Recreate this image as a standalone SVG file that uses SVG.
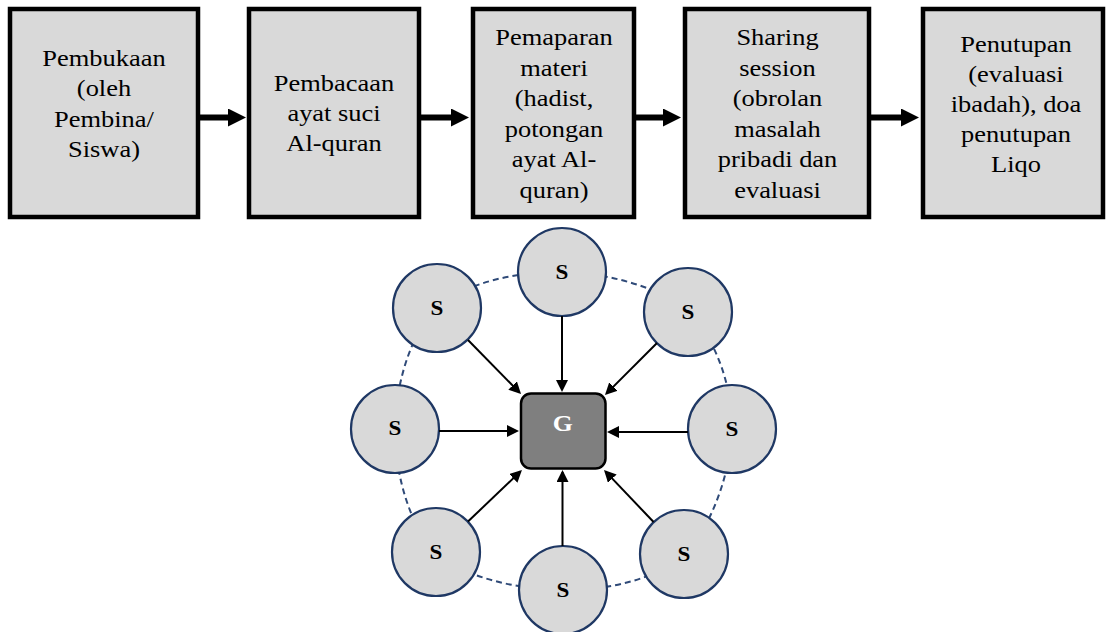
<svg xmlns="http://www.w3.org/2000/svg" width="1106" height="632" viewBox="0 0 1106 632">
<defs>
<style>
.box{fill:#d9d9d9;stroke:#000;stroke-width:4.5}
.bt{font-family:"Liberation Serif","Times New Roman",serif;font-size:23px;fill:#000;text-anchor:middle}
.flow{stroke:#000;stroke-width:6;fill:none}
.circ{fill:#d9d9d9;stroke:#1f3864;stroke-width:2.2}
.st{font-family:"Liberation Serif","Times New Roman",serif;font-size:21px;font-weight:bold;fill:#000;text-anchor:middle}
.ring{fill:none;stroke:#2f4a78;stroke-width:2;stroke-dasharray:6 4}
.ar{stroke:#000;stroke-width:2;fill:none}
.gbox{fill:#7f7f7f;stroke:#000;stroke-width:2.5}
.gt{font-family:"Liberation Serif","Times New Roman",serif;font-size:23px;font-weight:bold;fill:#fff;text-anchor:middle}
</style>
<marker id="bigHead" markerUnits="userSpaceOnUse" markerWidth="18" markerHeight="18" refX="1" refY="9" orient="auto">
<path d="M0,0 L18,9 L0,18 z" fill="#000"/>
</marker>
<marker id="smallHead" markerUnits="userSpaceOnUse" markerWidth="12" markerHeight="12" refX="10" refY="6" orient="auto">
<path d="M0,0 L12,6 L0,12 z" fill="#000"/>
</marker>
</defs>
<rect width="1106" height="632" fill="#fff"/>

<g id="step1">
<rect class="box" x="10" y="9" width="188" height="208"/>
<text class="bt" transform="translate(104,0) scale(1.15,1)"><tspan x="0" y="66">Pembukaan</tspan><tspan x="0" y="96.5">(oleh</tspan><tspan x="0" y="127">Pembina/</tspan><tspan x="0" y="157.5">Siswa)</tspan></text>
</g>
<g id="step2">
<rect class="box" x="249" y="9" width="170" height="208"/>
<text class="bt" transform="translate(334,0) scale(1.15,1)"><tspan x="0" y="91">Pembacaan</tspan><tspan x="0" y="121">ayat suci</tspan><tspan x="0" y="151">Al-quran</tspan></text>
</g>
<g id="step3">
<rect class="box" x="473" y="9" width="161" height="208"/>
<text class="bt" transform="translate(554,0) scale(1.15,1)"><tspan x="0" y="45.5">Pemaparan</tspan><tspan x="0" y="76">materi</tspan><tspan x="0" y="106.5">(hadist,</tspan><tspan x="0" y="137">potongan</tspan><tspan x="0" y="167.5">ayat Al-</tspan><tspan x="0" y="198">quran)</tspan></text>
</g>
<g id="step4">
<rect class="box" x="685" y="9" width="184" height="208"/>
<text class="bt" transform="translate(777.5,0) scale(1.15,1)"><tspan x="0" y="45.5">Sharing</tspan><tspan x="0" y="76">session</tspan><tspan x="0" y="106.5">(obrolan</tspan><tspan x="0" y="137">masalah</tspan><tspan x="0" y="167.5">pribadi dan</tspan><tspan x="0" y="198">evaluasi</tspan></text>
</g>
<g id="step5">
<rect class="box" x="923" y="9" width="180" height="208"/>
<text class="bt" transform="translate(1016,0) scale(1.15,1)"><tspan x="0" y="52">Penutupan</tspan><tspan x="0" y="82">(evaluasi</tspan><tspan x="0" y="112">ibadah), doa</tspan><tspan x="0" y="142">penutupan</tspan><tspan x="0" y="172">Liqo</tspan></text>
</g>

<g id="flow-connectors">
<line class="flow" x1="200" y1="117.5" x2="229" y2="117.5" marker-end="url(#bigHead)"/>
<line class="flow" x1="421" y1="117.5" x2="452" y2="117.5" marker-end="url(#bigHead)"/>
<line class="flow" x1="636" y1="117.5" x2="664" y2="117.5" marker-end="url(#bigHead)"/>
<line class="flow" x1="871" y1="117.5" x2="902" y2="117.5" marker-end="url(#bigHead)"/>
</g>

<g id="ring">
<path class="ring" d="M562,272 C603.8,272.7 659.7,285.8 688,312 C716.3,338.2 732.7,388.7 732,429 C731.3,469.3 712.2,527.2 684,554 C655.8,580.8 604.3,590.3 563,590 C521.7,589.7 464,578.8 436,552 C408,525.2 394.8,469.7 395,429 C395.2,388.3 409.2,334.2 437,308 C464.8,281.8 520.2,271.3 562,272 Z"/>
</g>

<g id="s-top"><circle class="circ" cx="562" cy="272" r="44"/><text class="st" transform="translate(562,279) scale(1.1,1)">S</text></g>
<g id="s-top-right"><circle class="circ" cx="688" cy="312" r="44"/><text class="st" transform="translate(688,319) scale(1.1,1)">S</text></g>
<g id="s-right"><circle class="circ" cx="732" cy="429" r="44"/><text class="st" transform="translate(732,435.5) scale(1.1,1)">S</text></g>
<g id="s-bottom-right"><circle class="circ" cx="684" cy="554" r="44"/><text class="st" transform="translate(684,560.5) scale(1.1,1)">S</text></g>
<g id="s-bottom"><circle class="circ" cx="563" cy="590" r="44"/><text class="st" transform="translate(563,596.5) scale(1.1,1)">S</text></g>
<g id="s-bottom-left"><circle class="circ" cx="436" cy="552" r="44"/><text class="st" transform="translate(436,558.5) scale(1.1,1)">S</text></g>
<g id="s-left"><circle class="circ" cx="395" cy="429" r="44"/><text class="st" transform="translate(395,435) scale(1.1,1)">S</text></g>
<g id="s-top-left"><circle class="circ" cx="437" cy="308" r="44"/><text class="st" transform="translate(437,314.5) scale(1.1,1)">S</text></g>

<g id="g-center">
<rect class="gbox" x="521" y="393.5" width="84.5" height="75" rx="10" ry="10"/>
<text class="gt" transform="translate(562.7,430.5) scale(1.12,1)">G</text>
</g>

<g id="s-connectors">
<line class="ar" x1="562" y1="316" x2="562" y2="390" marker-end="url(#smallHead)"/>
<line class="ar" x1="468" y1="340" x2="519.6" y2="392.6" marker-end="url(#smallHead)"/>
<line class="ar" x1="657" y1="343" x2="606.4" y2="393.6" marker-end="url(#smallHead)"/>
<line class="ar" x1="439" y1="431" x2="517" y2="431" marker-end="url(#smallHead)"/>
<line class="ar" x1="688" y1="432" x2="609" y2="432" marker-end="url(#smallHead)"/>
<line class="ar" x1="468" y1="521.5" x2="520.5" y2="471.4" marker-end="url(#smallHead)"/>
<line class="ar" x1="562.5" y1="546" x2="562.5" y2="472" marker-end="url(#smallHead)"/>
<line class="ar" x1="653.6" y1="522" x2="605.4" y2="471.4" marker-end="url(#smallHead)"/>
</g>
</svg>
